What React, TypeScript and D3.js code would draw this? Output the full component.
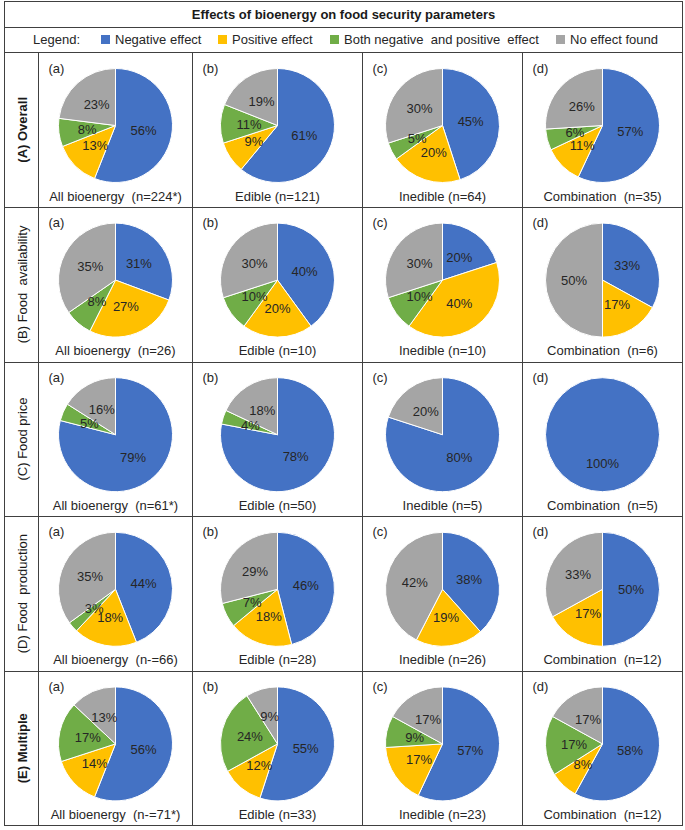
import React from "react";
import * as d3 from "d3";

const title = "Effects of bioenergy on food security parameters";
const effectNames = ["Negative effect", "Positive effect", "Both negative  and positive  effect", "No effect found"];
const effectColors = ["#4472C4", "#FFC000", "#70AD47", "#A5A5A5"];
const rowLabels = ["(A) Overall", "(B) Food  availability", "(C) Food price", "(D) Food  production", "(E) Multiple"];
const rowBold = [true, false, false, false, true];
const panelLetters = ["(a)", "(b)", "(c)", "(d)"];

const valuesA = [[56, 13, 8, 23], [61, 9, 11, 19], [45, 20, 5, 30], [57, 11, 6, 26]];
const valuesB = [[31, 27, 8, 35], [40, 20, 10, 30], [20, 40, 10, 30], [33, 17, 0, 50]];
const valuesC = [[79, 0, 5, 16], [78, 0, 4, 18], [80, 0, 0, 20], [100, 0, 0, 0]];
const valuesD = [[44, 18, 3, 35], [46, 18, 7, 29], [38, 19, 0, 42], [50, 17, 0, 33]];
const valuesE = [[56, 14, 17, 13], [55, 12, 24, 9], [57, 17, 9, 17], [58, 8, 17, 17]];
const allValues = [valuesA, valuesB, valuesC, valuesD, valuesE];

const captionsA = ["All bioenergy  (n=224*)", "Edible (n=121)", "Inedible (n=64)", "Combination  (n=35)"];
const captionsB = ["All bioenergy  (n=26)", "Edible (n=10)", "Inedible (n=10)", "Combination  (n=6)"];
const captionsC = ["All bioenergy  (n=61*)", "Edible (n=50)", "Inedible (n=5)", "Combination  (n=5)"];
const captionsD = ["All bioenergy  (n-=66)", "Edible (n=28)", "Inedible (n=26)", "Combination  (n=12)"];
const captionsE = ["All bioenergy  (n-=71*)", "Edible (n=33)", "Inedible (n=23)", "Combination  (n=12)"];
const allCaptions = [captionsA, captionsB, captionsC, captionsD, captionsE];

const W = 685;
const H = 830;
const left = 4.5;
const right = 682.5;
const top = 1.5;
const titleBottom = 27.5;
const legendBottom = 52.5;
const bottom = 825.5;
const labelColRight = 38.5;
const colEdges = [38.5, 192.5, 362.5, 522.5, 682.5];
const R = 57;
const font = "'Liberation Sans', Arial, sans-serif";
const lineColor = "#404040";
const textColor = "#262626";

const rowY = d3.scaleLinear().domain([0, 5]).range([legendBottom, bottom]);

const legendX = [101, 218, 330, 556];

export default function App() {
  const pie = d3.pie<number>().sort(null).value((d) => d).startAngle(0).endAngle(2 * Math.PI);
  const arc = d3.arc<d3.PieArcDatum<number>>().innerRadius(0).outerRadius(R);

  return (
    <svg width={W} height={H} style={{ position: "absolute", left: 0, top: 0, background: "#fff" }} fontFamily={font}>
      <rect x={0} y={0} width={W} height={H} fill="#fff" />
      {/* title */}
      <text x={(left + right) / 2} y={19} textAnchor="middle" fontSize={13} fontWeight="bold" fill="#1a1a1a" style={{ whiteSpace: "pre" }}>
        {title}
      </text>
      {/* legend */}
      <text x={33} y={44} fontSize={13} fill={textColor}>Legend:</text>
      {effectNames.map((n, i) => (
        <g key={n}>
          <rect x={legendX[i]} y={35} width={9} height={9} fill={effectColors[i]} />
          <text x={legendX[i] + 14} y={44} fontSize={13} fill={textColor} style={{ whiteSpace: "pre" }}>{n}</text>
        </g>
      ))}
      {/* rows */}
      {allValues.map((rowVals, ri) => {
        const y0 = rowY(ri);
        const y1 = rowY(ri + 1);
        const cy = y0 + 73;
        return (
          <g key={ri}>
            <text
              transform={`translate(${(left + labelColRight) / 2 + 1},${(y0 + y1) / 2}) rotate(-90)`}
              textAnchor="middle"
              dominantBaseline="central"
              fontSize={13}
              fontWeight={rowBold[ri] ? "bold" : "normal"}
              fill="#1a1a1a"
              style={{ whiteSpace: "pre" }}
            >
              {rowLabels[ri]}
            </text>
            {rowVals.map((vals, ci) => {
              const cx = (colEdges[ci] + colEdges[ci + 1]) / 2;
              const arcs = pie(vals);
              return (
                <g key={ci}>
                  <text x={colEdges[ci] + 10} y={y0 + 20} fontSize={13} fill={textColor}>{panelLetters[ci]}</text>
                  <g transform={`translate(${cx},${cy})`}>
                    {arcs.map((a, k) =>
                      a.value > 0 ? (
                        <path key={k} d={arc(a) || ""} fill={effectColors[k]} stroke="#fff" strokeWidth={1} />
                      ) : null
                    )}
                    {arcs.map((a, k) => {
                      if (a.value <= 0) return null;
                      const [lx, ly] = arc.centroid(a);
                      return (
                        <text key={"t" + k} x={lx} y={ly} textAnchor="middle" dominantBaseline="central" fontSize={13} fill={textColor}>
                          {a.value + "%"}
                        </text>
                      );
                    })}
                  </g>
                  <text x={cx} y={y0 + 148} textAnchor="middle" fontSize={13} fill={textColor} style={{ whiteSpace: "pre" }}>
                    {allCaptions[ri][ci]}
                  </text>
                </g>
              );
            })}
          </g>
        );
      })}
      {/* grid lines */}
      <rect x={left} y={top} width={right - left} height={bottom - top} fill="none" stroke={lineColor} strokeWidth={1} />
      <line x1={left} x2={right} y1={titleBottom} y2={titleBottom} stroke={lineColor} />
      <line x1={left} x2={right} y1={legendBottom} y2={legendBottom} stroke={lineColor} />
      {d3.range(1, 5).map((i) => (
        <line key={"h" + i} x1={left} x2={right} y1={Math.round(rowY(i)) + 0.5} y2={Math.round(rowY(i)) + 0.5} stroke={lineColor} />
      ))}
      {colEdges.slice(0, 4).map((x, i) => (
        <line key={"v" + i} x1={x} x2={x} y1={legendBottom} y2={bottom} stroke={lineColor} />
      ))}
    </svg>
  );
}
